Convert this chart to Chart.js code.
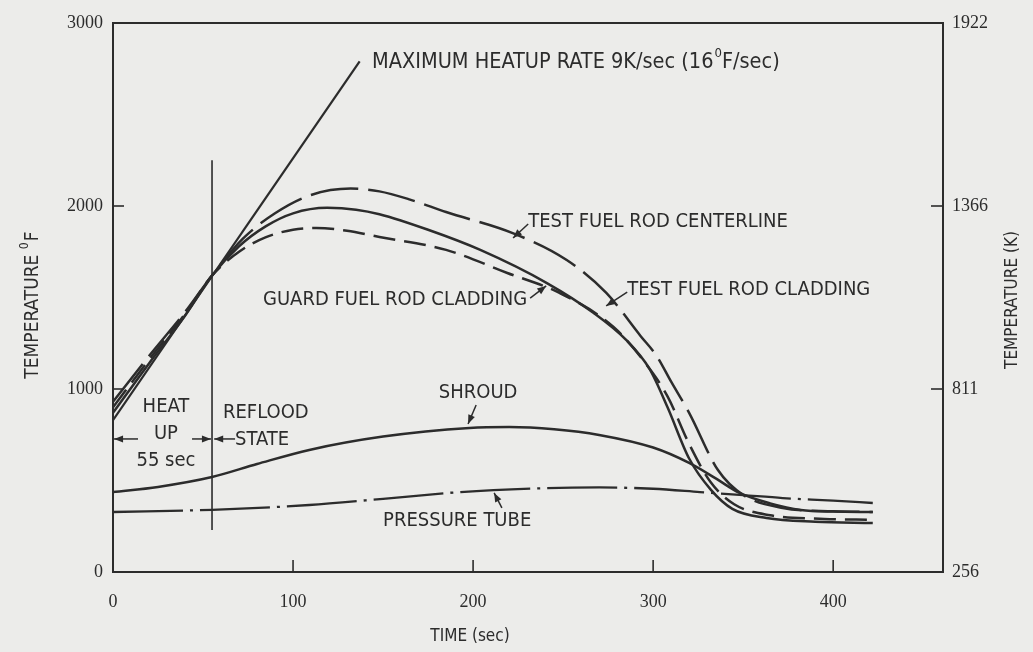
<!DOCTYPE html>
<html>
<head>
<meta charset="utf-8">
<script src="https://cdn.jsdelivr.net/npm/chart.js@4.4.0/dist/chart.umd.min.js"></script>
<style>
html, body { margin: 0; padding: 0; background: #ececea; }
#wrap { width: 1033px; height: 652px; }
</style>
</head>
<body>
<div id="wrap"><canvas id="myChart" width="1033" height="652"></canvas></div>
<script>
// axis ticks
const xTickValues = [0, 100, 200, 300, 400];
const yTickValues = [0, 1000, 2000, 3000];
const kelvinLabels = ['256', '811', '1366', '1922'];

// maximum heatup rate (straight line)
const heatupTime = [0, 137];
const heatupTemp = [830, 2790];

// test fuel rod centerline (long dashes)
const centerTime = [0, 20, 40, 55, 72, 90, 110, 132, 148, 165, 185, 222, 252, 274, 293, 302, 310, 320, 336, 350, 372, 400, 422];
const centerTemp = [930, 1180, 1420, 1620, 1820, 1960, 2060, 2095, 2080, 2035, 1967, 1852, 1705, 1525, 1290, 1180, 1040, 870, 557, 421, 350, 332, 328];

// test fuel rod cladding (solid)
const claddingTime = [0, 20, 40, 55, 70, 85, 100, 119, 135, 148, 175, 204, 241, 267, 285, 298, 308, 320, 332, 344, 363, 390, 422];
const claddingTemp = [870, 1140, 1400, 1620, 1780, 1890, 1960, 1990, 1980, 1955, 1870, 1760, 1579, 1415, 1268, 1110, 900, 620, 450, 345, 295, 275, 268];

// guard fuel rod cladding (short dashes)
const guardTime = [0, 20, 40, 55, 70, 85, 100, 113, 130, 148, 185, 219, 248, 278, 295, 308, 320, 332, 345, 365, 395, 422];
const guardTemp = [900, 1160, 1410, 1620, 1750, 1830, 1870, 1880, 1865, 1831, 1760, 1634, 1525, 1339, 1150, 960, 700, 490, 370, 310, 290, 285];

// shroud (solid)
const shroudTime = [0, 25, 55, 80, 109, 150, 198, 220, 245, 270, 300, 320, 335, 348, 365, 382, 400, 422];
const shroudTemp = [437, 465, 519, 590, 667, 740, 787, 792, 780, 749, 680, 596, 510, 432, 375, 339, 330, 328];

// pressure tube (dash-dot)
const tubeTime = [0, 55, 109, 150, 193, 240, 270, 300, 326, 350, 372, 400, 422];
const tubeTemp = [328, 340, 366, 400, 437, 458, 462, 455, 437, 420, 404, 390, 377];

// end of heat up / start of reflood
const refloodTime = [55, 55];
const refloodTemp = [2250, 230];

const ink = '#2c2c2c';
const annFont = "'Liberation Sans Narrow', 'DejaVu Sans Condensed', 'Arial Narrow', sans-serif";
const numFont = "'Liberation Serif', 'DejaVu Serif', serif";

function pts(t, v) {
    return t.map((x, i) => ({ x: x, y: v[i] }));
}

function line(label, t, v, dash, width, smooth) {
    return {
        label: label,
        data: pts(t, v),
        borderColor: ink,
        borderWidth: width,
        borderDash: dash,
        pointRadius: 0,
        fill: false,
        tension: 0,
        cubicInterpolationMode: smooth ? 'monotone' : 'default'
    };
}

function arrow(ctx, x1, y1, x2, y2) {
    ctx.beginPath();
    ctx.moveTo(x1, y1);
    ctx.lineTo(x2, y2);
    ctx.stroke();
    const a = Math.atan2(y2 - y1, x2 - x1);
    ctx.beginPath();
    ctx.moveTo(x2, y2);
    ctx.lineTo(x2 - 9 * Math.cos(a) + 3.5 * Math.sin(a), y2 - 9 * Math.sin(a) - 3.5 * Math.cos(a));
    ctx.lineTo(x2 - 9 * Math.cos(a) - 3.5 * Math.sin(a), y2 - 9 * Math.sin(a) + 3.5 * Math.cos(a));
    ctx.closePath();
    ctx.fill();
}

// labels placed in data units
const notes = [
    { text: 'TEST FUEL ROD CENTERLINE', x: 230.6, y: 1913, align: 'left' },
    { text: 'TEST FUEL ROD CLADDING', x: 285.6, y: 1541, align: 'left' },
    { text: 'GUARD FUEL ROD CLADDING', x: 230, y: 1486, align: 'right' },
    { text: 'SHROUD', x: 202.8, y: 978, align: 'center' },
    { text: 'PRESSURE TUBE', x: 150, y: 279, align: 'left' },
    { text: 'HEAT', x: 29.4, y: 902, align: 'center' },
    { text: 'UP', x: 29.4, y: 754, align: 'center' },
    { text: '55 sec', x: 29.4, y: 607, align: 'center' },
    { text: 'REFLOOD', x: 61.1, y: 869, align: 'left' },
    { text: 'STATE', x: 67.8, y: 721, align: 'left' }
];
const pointers = [
    [230.6, 1902, 222.2, 1825],
    [285.6, 1530, 273.9, 1454],
    [231.7, 1497, 240.6, 1563],
    [201.7, 913, 197.2, 809],
    [216, 350, 211.7, 432],
    [13.9, 727, 0.6, 727],
    [43.9, 727, 54.4, 727],
    [67.8, 727, 56.2, 727]
];

const decor = {
    id: 'decor',
    beforeDraw(chart) {
        const c = chart.ctx;
        c.save();
        c.fillStyle = '#ececea';
        c.fillRect(0, 0, chart.width, chart.height);
        c.restore();
    },
    afterDraw(chart) {
        const c = chart.ctx;
        const a = chart.chartArea;
        const sx = chart.scales.x, sy = chart.scales.y;
        c.save();
        c.strokeStyle = ink;
        c.fillStyle = ink;
        c.lineWidth = 2;
        c.strokeRect(a.left, a.top, a.right - a.left, a.bottom - a.top);

        // inside tick marks
        c.lineWidth = 1.6;
        xTickValues.forEach(v => {
            if (v === 0) return;
            const px = sx.getPixelForValue(v);
            c.beginPath(); c.moveTo(px, a.bottom); c.lineTo(px, a.bottom - 12); c.stroke();
        });
        yTickValues.forEach(v => {
            if (v === 0 || v === 3000) return;
            const py = sy.getPixelForValue(v);
            c.beginPath(); c.moveTo(a.left, py); c.lineTo(a.left + 11, py); c.stroke();
            c.beginPath(); c.moveTo(a.right, py); c.lineTo(a.right - 12, py); c.stroke();
        });

        // annotations
        c.font = '20px ' + annFont;
        c.textBaseline = 'middle';
        notes.forEach(n => {
            c.textAlign = n.align;
            c.fillText(n.text, sx.getPixelForValue(n.x), sy.getPixelForValue(n.y));
        });
        c.lineWidth = 1.5;
        pointers.forEach(p => {
            arrow(c, sx.getPixelForValue(p[0]), sy.getPixelForValue(p[1]), sx.getPixelForValue(p[2]), sy.getPixelForValue(p[3]));
        });

        // max heatup label with superscript
        let tx = sx.getPixelForValue(143.9), ty = sy.getPixelForValue(2787);
        c.textAlign = 'left';
        c.font = '21.5px ' + annFont;
        const part1 = 'MAXIMUM HEATUP RATE 9K/sec (16';
        c.fillText(part1, tx, ty);
        tx += c.measureText(part1).width;
        c.font = '13px ' + annFont;
        c.fillText('0', tx + 1, ty - 8);
        tx += c.measureText('0').width + 1;
        c.font = '21.5px ' + annFont;
        c.fillText('F/sec)', tx, ty);

        // axis titles
        c.font = '17px ' + annFont;
        c.textAlign = 'center';
        c.fillText('TIME (sec)', 470, 637);

        c.save();
        c.translate(33, 305);
        c.rotate(-Math.PI / 2);
        c.textAlign = 'left';
        c.font = '19px ' + annFont;
        const t1 = 'TEMPERATURE ';
        const w1 = c.measureText(t1).width;
        const w2 = c.measureText('F').width;
        const start = -(w1 + w2 + 8) / 2;
        c.fillText(t1, start, 0);
        c.font = '12px ' + annFont;
        c.fillText('0', start + w1, -8);
        c.font = '19px ' + annFont;
        c.fillText('F', start + w1 + 8, 0);
        c.restore();

        c.save();
        c.translate(1013, 300);
        c.rotate(-Math.PI / 2);
        c.textAlign = 'center';
        c.font = '17px ' + annFont;
        c.fillText('TEMPERATURE (K)', 0, 0);
        c.restore();

        c.restore();
    }
};

const ctx = document.getElementById('myChart').getContext('2d');
const myChart = new Chart(ctx, {
    type: 'line',
    data: {
        datasets: [
            line('Maximum heatup rate', heatupTime, heatupTemp, [], 2.2, false),
            line('Test fuel rod centerline', centerTime, centerTemp, [48, 10], 2.5, true),
            line('Test fuel rod cladding', claddingTime, claddingTemp, [], 2.5, true),
            line('Guard fuel rod cladding', guardTime, guardTemp, [22, 9], 2.5, true),
            line('Shroud', shroudTime, shroudTemp, [], 2.5, true),
            line('Pressure tube', tubeTime, tubeTemp, [70, 7, 3, 7], 2.3, true),
            line('Reflood', refloodTime, refloodTemp, [], 1.6, false)
        ]
    },
    options: {
        responsive: false,
        animation: false,
        layout: { padding: { top: 23, left: 0, right: 0, bottom: 0 } },
        plugins: { legend: { display: false }, tooltip: { enabled: false } },
        scales: {
            x: {
                type: 'linear',
                position: 'bottom',
                min: 0,
                max: 461,
                grid: { display: false, drawTicks: false },
                border: { display: false },
                ticks: { color: ink, padding: 19, maxRotation: 0, font: { family: numFont, size: 18 }, callback: v => String(v) },
                afterBuildTicks: s => { s.ticks = xTickValues.map(v => ({ value: v })); },
                afterFit: s => { s.height = 80; }
            },
            y: {
                type: 'linear',
                position: 'left',
                min: 0,
                max: 3000,
                grid: { display: false, drawTicks: false },
                border: { display: false },
                ticks: { color: ink, padding: 10, font: { family: numFont, size: 18 }, callback: v => String(v) },
                afterBuildTicks: s => { s.ticks = yTickValues.map(v => ({ value: v })); },
                afterFit: s => { s.width = 113; }
            },
            y2: {
                type: 'linear',
                position: 'right',
                min: 0,
                max: 3000,
                grid: { display: false, drawTicks: false },
                border: { display: false },
                ticks: {
                    color: ink, padding: 9, font: { family: numFont, size: 18 },
                    callback: (v, i) => kelvinLabels[i]
                },
                afterBuildTicks: s => { s.ticks = yTickValues.map(v => ({ value: v })); },
                afterFit: s => { s.width = 90; }
            }
        }
    },
    plugins: [decor]
});
</script>
</body>
</html>
